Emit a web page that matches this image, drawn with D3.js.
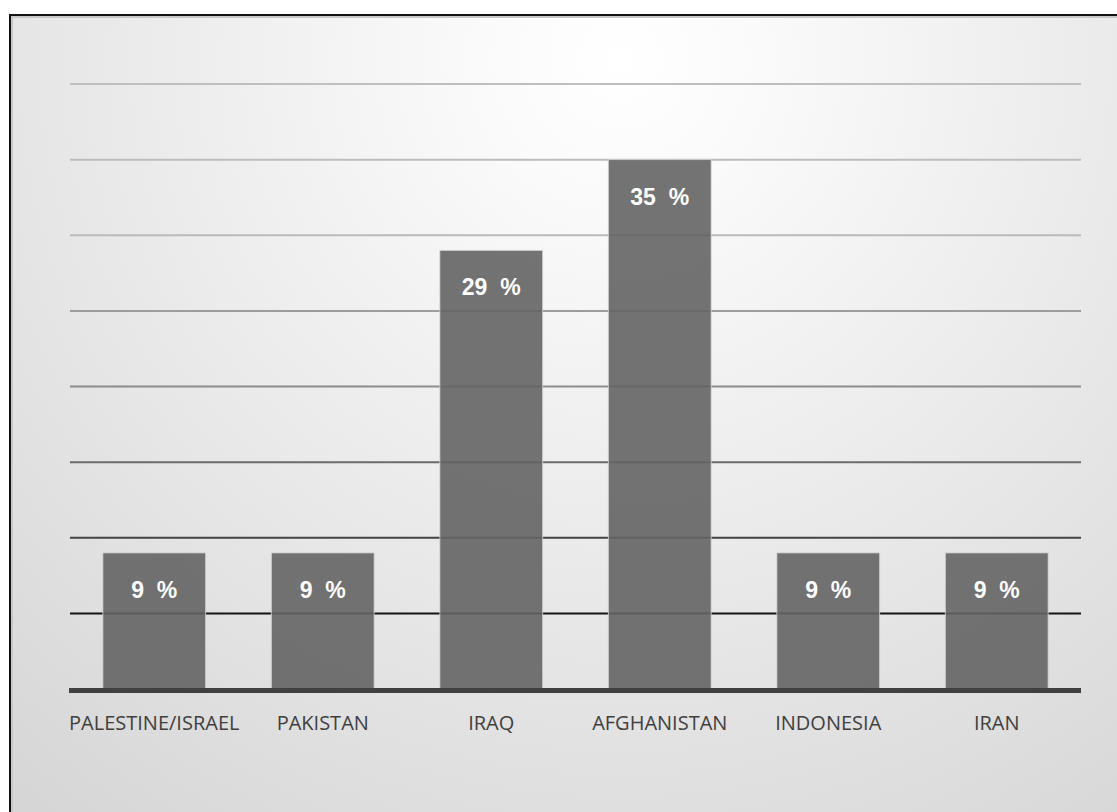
<!DOCTYPE html>
<html>
<head>
<meta charset="utf-8">
<script src="https://cdn.jsdelivr.net/npm/d3@7"></script>
<style>
  html, body { margin: 0; padding: 0; background: #fff; }
  svg { display: block; }
</style>
</head>
<body>
<svg id="chart"></svg>
<script>
// data
const categories = ["PALESTINE/ISRAEL", "PAKISTAN", "IRAQ", "AFGHANISTAN", "INDONESIA", "IRAN"];
const values = [9, 9, 29, 35, 9, 9];
const gridTicks = [5, 10, 15, 20, 25, 30, 35, 40];

const width = 1117, height = 812;
const plot = { left: 70, right: 1081, top: 84, bottom: 689 };

const svg = d3.select("#chart").attr("width", width).attr("height", height);

// background gradient
const defs = svg.append("defs");
const grad = defs.append("radialGradient")
  .attr("id", "bg")
  .attr("gradientUnits", "userSpaceOnUse")
  .attr("cx", 620).attr("cy", 60).attr("r", 950);
grad.append("stop").attr("offset", "0%").attr("stop-color", "#ffffff");
grad.append("stop").attr("offset", "15%").attr("stop-color", "#fafafa");
grad.append("stop").attr("offset", "100%").attr("stop-color", "#d6d6d6");

svg.append("rect").attr("width", width).attr("height", height).attr("fill", "#fff");
svg.append("rect")
  .attr("x", 10).attr("y", 15)
  .attr("width", width).attr("height", height)
  .attr("fill", "url(#bg)")
  .attr("stroke", "#111").attr("stroke-width", 2);
// thin inner edge
svg.append("path")
  .attr("d", `M12,${height} V17 H${width}`)
  .attr("fill", "none").attr("stroke", "#c8c8c8").attr("stroke-width", 2);

const x = d3.scaleBand()
  .domain(categories)
  .range([plot.left, plot.right])
  .paddingInner(0.39)
  .paddingOuter(0.195);

const y = d3.scaleLinear()
  .domain([0, 40])
  .range([plot.bottom, plot.top]);

// gridline colours darken toward the baseline
const gridColor = d3.scaleLinear()
  .domain([5, 10, 15, 20, 25, 30, 40])
  .range(["#141414", "#434343", "#6b6b6b", "#8c8c8c", "#9c9c9c", "#bababa", "#bfbfbf"]);

svg.append("g").selectAll("line")
  .data(gridTicks)
  .join("line")
  .attr("x1", plot.left).attr("x2", plot.right)
  .attr("y1", d => y(d)).attr("y2", d => y(d))
  .attr("stroke", d => gridColor(d))
  .attr("stroke-width", 2);

// bars
svg.append("g").selectAll("rect")
  .data(values)
  .join("rect")
  .attr("x", (d, i) => x(categories[i]))
  .attr("y", d => y(d))
  .attr("width", x.bandwidth())
  .attr("height", d => y(0) - y(d))
  .attr("fill", "rgba(100,100,100,0.9)")
  .attr("stroke", "rgba(215,215,215,0.8)")
  .attr("stroke-width", 1);

// baseline
svg.append("line")
  .attr("x1", plot.left - 1).attr("x2", plot.right)
  .attr("y1", y(0) + 1.5).attr("y2", y(0) + 1.5)
  .attr("stroke", "#404040")
  .attr("stroke-width", 5);

// value labels
svg.append("g").selectAll("text")
  .data(values)
  .join("text")
  .attr("x", (d, i) => x(categories[i]) + x.bandwidth() / 2)
  .attr("y", d => y(d) + 45)
  .attr("text-anchor", "middle")
  .style("white-space", "pre")
  .style("font-family", "'Liberation Sans', Arial, sans-serif")
  .style("font-weight", "bold")
  .style("font-size", "23px")
  .attr("fill", "#ffffff")
  .text(d => d + "  %");

// category labels
svg.append("g").selectAll("text")
  .data(categories)
  .join("text")
  .attr("x", d => x(d) + x.bandwidth() / 2)
  .attr("y", 730)
  .attr("text-anchor", "middle")
  .style("font-family", "'Open Sans', sans-serif")
  .style("font-size", "20px")
  .attr("fill", "#404040")
  .text(d => d);
</script>
</body>
</html>
